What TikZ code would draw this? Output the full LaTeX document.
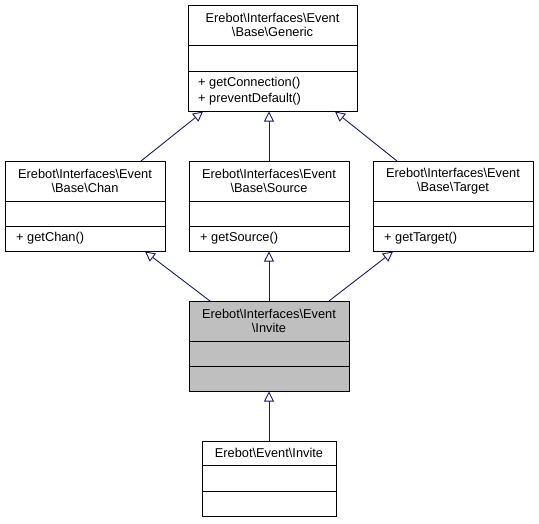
\documentclass[tikz,border=0pt]{standalone}
\usepackage{fontspec}
\setmainfont{Liberation Sans}
\usetikzlibrary{arrows.meta}
\definecolor{edgeblue}{HTML}{191970}
\definecolor{grayfill}{HTML}{BFBFBF}
\newcommand\BSx{\textbackslash}
\begin{document}
\begin{tikzpicture}[x=1pt,y=-1pt,
  cls/.style={draw=black, line width=0.9pt, inner sep=0pt, anchor=north west},
  sepl/.style={draw=black, line width=0.9pt},
  ttl/.style={font=\fontsize{12.8}{14}\selectfont, align=center, inner sep=0pt},
  mth/.style={font=\fontsize{12.8}{16}\selectfont, align=left, anchor=west, inner sep=0pt},
  inh/.style={draw=edgeblue, line width=0.9pt, -{Triangle[open,length=10pt,width=10pt]}}]
\useasboundingbox (0,0) rectangle (539,523);
% Generic
\node[cls, minimum width=169pt, minimum height=106pt] (generic) at (188,5) {};
\draw[sepl] (188,45) -- (357,45);
\draw[sepl] (188,71) -- (357,71);
\node[ttl] (genericT) at (272.5,25) {Erebot\BSx Interfaces\BSx Event\\\BSx Base\BSx Generic};
\node[mth] (genericM) at (198,91) {+ getConnection()\\+ preventDefault()};
% Chan
\node[cls, minimum width=160pt, minimum height=90pt] (chan) at (5,161) {};
\draw[sepl] (5,201) -- (165,201);
\draw[sepl] (5,226) -- (165,226);
\node[ttl] (chanT) at (85,181) {Erebot\BSx Interfaces\BSx Event\\\BSx Base\BSx Chan};
\node[mth] (chanM) at (16,238.5) {+ getChan()};
% Source
\node[cls, minimum width=160pt, minimum height=90pt] (source) at (189,161) {};
\draw[sepl] (189,201) -- (349,201);
\draw[sepl] (189,226) -- (349,226);
\node[ttl] (sourceT) at (269,181) {Erebot\BSx Interfaces\BSx Event\\\BSx Base\BSx Source};
\node[mth] (sourceM) at (200,238.5) {+ getSource()};
% Target
\node[cls, minimum width=160pt, minimum height=90pt] (target) at (373,161) {};
\draw[sepl] (373,201) -- (533,201);
\draw[sepl] (373,226) -- (533,226);
\node[ttl] (targetT) at (453,181) {Erebot\BSx Interfaces\BSx Event\\\BSx Base\BSx Target};
\node[mth] (targetM) at (384,238.5) {+ getTarget()};
% Invite (interface)
\node[cls, fill=grayfill, minimum width=160pt, minimum height=90pt] (invite) at (189,301) {};
\draw[sepl] (189,341) -- (349,341);
\draw[sepl] (189,366) -- (349,366);
\node[ttl] (inviteT) at (269,321) {Erebot\BSx Interfaces\BSx Event\\\BSx Invite};
% Event Invite
\node[cls, minimum width=134pt, minimum height=75pt] (evinvite) at (202,441) {};
\draw[sepl] (202,465) -- (336,465);
\draw[sepl] (202,491) -- (336,491);
\node[ttl] (evinviteT) at (269,453) {Erebot\BSx Event\BSx Invite};
% connectors
\coordinate (c1s) at (141,161); \coordinate (c1e) at (203,111.5);
\coordinate (c2s) at (269,161); \coordinate (c2e) at (269,111.5);
\coordinate (c3s) at (397,161); \coordinate (c3e) at (335,111.5);
\coordinate (d1s) at (210,301); \coordinate (d1e) at (145,251.5);
\coordinate (d2s) at (269,301); \coordinate (d2e) at (269,251.5);
\coordinate (d3s) at (329,301); \coordinate (d3e) at (393,251.5);
\coordinate (e1s) at (269,441); \coordinate (e1e) at (269,391.5);
\draw[inh] (c1s) -- (c1e);
\draw[inh] (c2s) -- (c2e);
\draw[inh] (c3s) -- (c3e);
\draw[inh] (d1s) -- (d1e);
\draw[inh] (d2s) -- (d2e);
\draw[inh] (d3s) -- (d3e);
\draw[inh] (e1s) -- (e1e);
\end{tikzpicture}
\end{document}
